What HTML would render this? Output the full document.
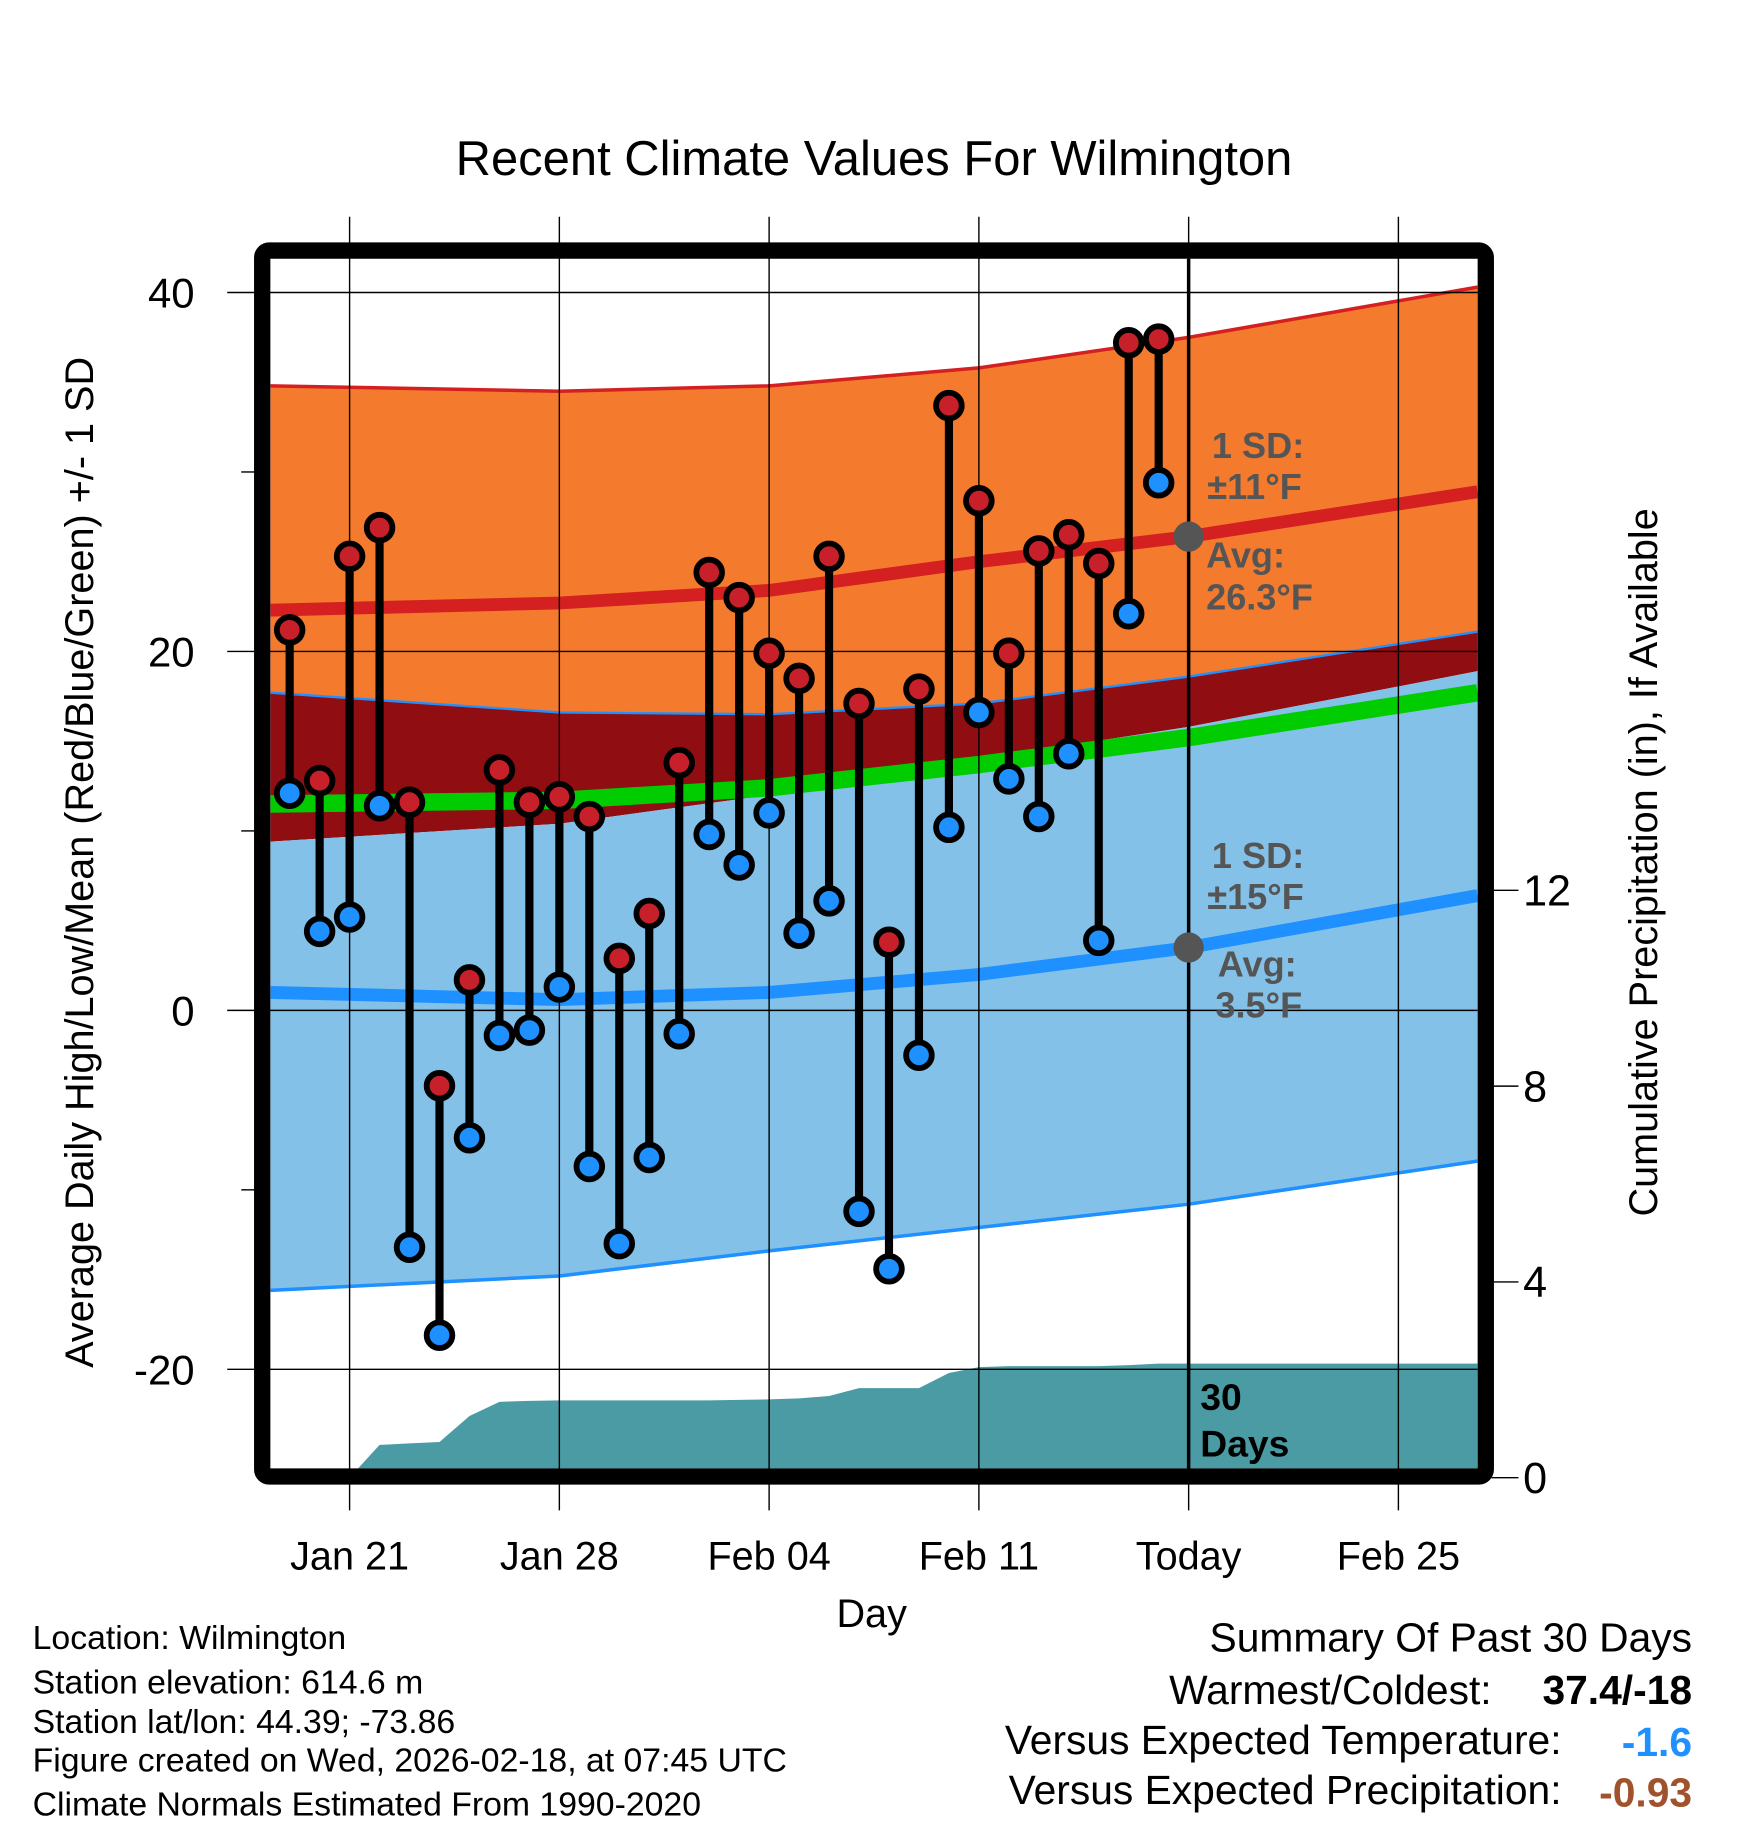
<!DOCTYPE html>
<html><head><meta charset="utf-8"><style>
html,body{margin:0;padding:0;background:#fff}
svg{display:block;font-family:"Liberation Sans",sans-serif}
</style></head><body>
<svg id="c" width="1748" height="1828" viewBox="0 0 1500 1568.6" preserveAspectRatio="none" xmlns="http://www.w3.org/2000/svg">
<defs><clipPath id="clip"><rect x="232" y="222" width="1036" height="1038"/></clipPath></defs>
<text x="750" y="150" text-anchor="middle" font-size="42">Recent Climate Values For Wilmington</text>
<g id="plot" clip-path="url(#clip)"></g>
<g id="axes"></g>
<g id="marks"></g>
<rect x="225" y="215" width="1050" height="1052" fill="none" stroke="#000" stroke-width="14" rx="6"/>
<text transform="translate(80,740) rotate(-90)" text-anchor="middle" font-size="34">Average Daily High/Low/Mean (Red/Blue/Green) +/- 1 SD</text>
<text transform="translate(1422,740) rotate(-90)" text-anchor="middle" font-size="34">Cumulative Precipitation (in), If Available</text>
<text x="748" y="1396" text-anchor="middle" font-size="34">Day</text>
<g font-size="29">
<text x="28" y="1415">Location: Wilmington</text>
<text x="28" y="1453">Station elevation: 614.6 m</text>
<text x="28" y="1487">Station lat/lon: 44.39; -73.86</text>
<text x="28" y="1520">Figure created on Wed, 2026-02-18, at 07:45 UTC</text>
<text x="28" y="1558">Climate Normals Estimated From 1990-2020</text>
</g>
<g font-size="35" text-anchor="end">
<text x="1452" y="1417">Summary Of Past 30 Days</text>
<text x="1280" y="1462">Warmest/Coldest:</text>
<text x="1452" y="1462" font-weight="bold">37.4/-18</text>
<text x="1340" y="1505">Versus Expected Temperature:</text>
<text x="1452" y="1507" font-weight="bold" fill="#1e90ff">-1.6</text>
<text x="1340" y="1548">Versus Expected Precipitation:</text>
<text x="1452" y="1550" font-weight="bold" fill="#a0522d">-0.93</text>
</g>
</svg>
<script>
const obsDays=[-2,-1,0,1,2,3,4,5,6,7,8,9,10,11,12,13,14,15,16,17,18,19,20,21,22,23,24,25,26,27];
const highs=[21.2,12.8,25.3,26.9,11.6,-4.2,1.7,13.4,11.6,11.9,10.8,2.9,5.4,13.8,24.4,23,19.9,18.5,25.3,17.1,3.8,17.9,33.7,28.4,19.9,25.6,26.5,24.9,37.2,37.4];
const lows=[12.1,4.4,5.2,11.4,-13.2,-18.1,-7.1,-1.4,-1.1,1.3,-8.7,-13,-8.2,-1.3,9.8,8.1,11,4.3,6.1,-11.2,-14.4,-2.5,10.2,16.6,12.9,10.8,14.3,3.9,22.1,29.4];
const normDays=[-2.64,7,14,21,28,37.64];
const highPlusSD=[34.8,34.5,34.8,35.8,37.5,40.3];
const highMean=[22.3,22.7,23.4,25,26.4,28.9];
const highMinusSD=[17.7,16.6,16.5,17.1,18.6,21.1];
const meanTemp=[11.5,11.7,12.4,13.7,15.2,17.7];
const lowPlusSD=[9.4,10.4,12.0,14.0,15.8,18.9];
const lowMean=[1.0,0.6,1.0,2.0,3.5,6.4];
const lowMinusSD=[-15.6,-14.8,-13.4,-12.1,-10.8,-8.4];
const precipDays=[0,1,2,3,4,5,6,7,8,9,10,11,12,13,14,15,16,17,18,19,20,21,22,23,24,25,26,27,28,37.64];
const precip=[0,0.67,0.70,0.73,1.26,1.55,1.57,1.58,1.58,1.58,1.58,1.58,1.58,1.59,1.60,1.62,1.67,1.83,1.83,1.83,2.14,2.26,2.28,2.28,2.28,2.28,2.30,2.33,2.33,2.33];
const xTickDays=[0,7,14,21,28,35];
const xTickLabels=["Jan 21","Jan 28","Feb 04","Feb 11","Today","Feb 25"];
const yTicks=[40,20,0,-20];
const yMinor=[30,10,-10];
const pTicks=[0,4,8,12];

const NS="http://www.w3.org/2000/svg";
const X=d=>300+d*180/7;
const Y=t=>867-t*15.4;
const P=p=>1268-p*42;
function mk(tag,attrs,parent){const e=document.createElementNS(NS,tag);for(const k in attrs)e.setAttribute(k,attrs[k]);parent.appendChild(e);return e;}
const plot=document.getElementById('plot'),axes=document.getElementById('axes'),marks=document.getElementById('marks');
function band(top,bot,fill,name){
  let pts=normDays.map((d,i)=>X(d)+','+Y(top[i]));
  for(let i=normDays.length-1;i>=0;i--)pts.push(X(normDays[i])+','+Y(bot[i]));
  const e=mk('polygon',{points:pts.join(' '),fill:fill},plot);
  
  
}
function line(vals,color,w,name){
  const e=mk('polyline',{points:normDays.map((d,i)=>X(d)+','+Y(vals[i])).join(' '),fill:'none',stroke:color,'stroke-width':w},plot);
  
  
}
band(highPlusSD,highMinusSD,'#f47a2e','high-sd-band');
band(highMinusSD,lowPlusSD,'#900d12','overlap-band');
band(lowPlusSD,lowMinusSD,'#83c1e8','low-sd-band');
line(highPlusSD,'#d42020',3,'high-plus-sd-line');
line(highMinusSD,'#1e90ff',2,'high-minus-sd-line');
line(lowMinusSD,'#1e90ff',3,'low-minus-sd-line');
line(meanTemp,'#00cc00',15,'mean-line');
line(highMean,'#d42020',11,'high-mean-line');
line(lowMean,'#1e90ff',11,'low-mean-line');
let pp=[X(0)+','+P(0)];
precipDays.forEach((d,i)=>pp.push(X(d)+','+P(precip[i])));
pp.push(X(37.64)+','+P(0));
const pe=mk('polygon',{points:pp.join(' '),fill:'#4a9ba4'},plot);


xTickDays.forEach((d,i)=>{
  const g=mk('line',{x1:X(d),x2:X(d),y1:186,y2:1296,stroke:'#000','stroke-width':1.2},axes);
  
  
  const t=mk('text',{x:X(d),y:1347,'text-anchor':'middle','font-size':34},axes);
  t.textContent=xTickLabels[i];
  
  
});
yTicks.forEach(v=>{
  const g=mk('line',{x1:195,x2:1268,y1:Y(v),y2:Y(v),stroke:'#000','stroke-width':1.2},axes);
  
  
  const t=mk('text',{x:167,y:Y(v)+13,'text-anchor':'end','font-size':36},axes);
  t.textContent=v;
  
  
});
yMinor.forEach(v=>{
  const g=mk('line',{x1:207,x2:220,y1:Y(v),y2:Y(v),stroke:'#000','stroke-width':1.2},axes);
  
  
});
pTicks.forEach(v=>{
  const g=mk('line',{x1:1280,x2:1303,y1:P(v),y2:P(v),stroke:'#000','stroke-width':1.2},axes);
  
  
  const t=mk('text',{x:1307,y:P(v)+13,'font-size':37},axes);
  t.textContent=v;
  
  
});
const tl=mk('line',{x1:X(28),x2:X(28),y1:222,y2:1260,stroke:'#000','stroke-width':3},marks);


[[highMean[4],'high-avg-dot'],[lowMean[4],'low-avg-dot']].forEach(a=>{
  const c=mk('circle',{cx:X(28),cy:Y(a[0]),r:13,fill:'#555'},marks);
  
  
});
const ann=[["1 SD:",1040,393],["±11°F",1036,428],["Avg:",1035,487],["26.3°F",1035,523],["1 SD:",1040,745],["±15°F",1036,780],["Avg:",1045,838],["3.5°F",1043,873]];
ann.forEach(a=>{
  const t=mk('text',{x:a[1],y:a[2],'font-size':31,'font-weight':'bold',fill:'#555'},marks);
  t.textContent=a[0];
  
  
});
[["30",1210],["Days",1250]].forEach(a=>{
  const t=mk('text',{x:1030,y:a[1],'font-size':32,'font-weight':'bold'},marks);
  t.textContent=a[0];
  
  
});
obsDays.forEach((d,i)=>{
  const s=mk('line',{x1:X(d),x2:X(d),y1:Y(highs[i]),y2:Y(lows[i]),stroke:'#000','stroke-width':7},marks);
  
  
  const h=mk('circle',{cx:X(d),cy:Y(highs[i]),r:11,fill:'#c8202a',stroke:'#000','stroke-width':5},marks);
  
  
  const l=mk('circle',{cx:X(d),cy:Y(lows[i]),r:11,fill:'#1e90ff',stroke:'#000','stroke-width':5},marks);
  
  
});
</script>
</body></html>
